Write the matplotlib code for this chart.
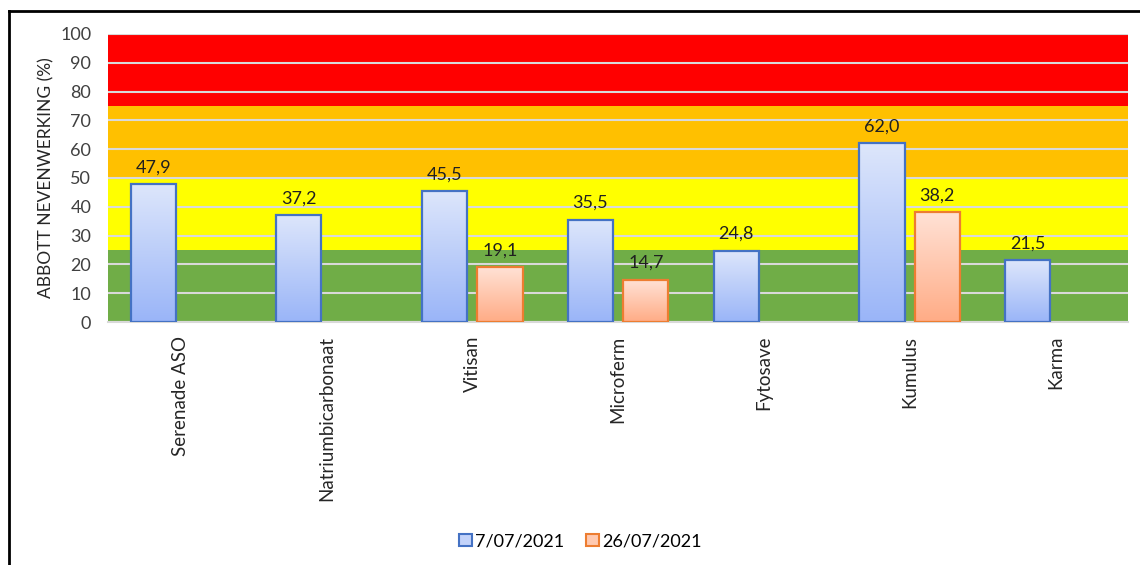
import numpy as np
import matplotlib.pyplot as plt
from matplotlib.patches import Patch
from matplotlib.lines import Line2D
from matplotlib.colors import LinearSegmentedColormap

# data
products = ['Serenade ASO', 'Natriumbicarbonaat', 'Vitisan', 'Microferm',
            'Fytosave', 'Kumulus', 'Karma']
dates = ['7/07/2021', '26/07/2021']
vals_0707 = [47.9, 37.2, 45.5, 35.5, 24.8, 62.0, 21.5]
vals_2607 = [np.nan, np.nan, 19.1, 14.7, np.nan, 38.2, np.nan]

# risk zones (lower, upper, colour)
zone_edges = [0, 25, 50, 75, 100]
zone_colors = ['#70ad47', '#ffff00', '#ffc000', '#ff0000']

plt.rcParams['font.family'] = ['Lato', 'DejaVu Sans']

fig = plt.figure(figsize=(11.4, 5.65), dpi=100)
ax = fig.add_axes([0.0947, 0.430, 0.895, 0.510])

for lo, hi, c in zip(zone_edges[:-1], zone_edges[1:], zone_colors):
    ax.axhspan(lo, hi, color=c, zorder=0, lw=0)

ax.set_yticks(range(0, 101, 10))
ax.yaxis.grid(True, color='#d9d9d9', lw=1.5, zorder=1)
ax.set_axisbelow(False)

blue_cm = LinearSegmentedColormap.from_list('b', ['#9ab5f8', '#dde6fb'])
orange_cm = LinearSegmentedColormap.from_list('o', ['#ffac86', '#ffe2d6'])
grad = np.linspace(0, 1, 100).reshape(-1, 1)

width = 0.31
offset = 0.19
x = np.arange(len(products))
series = [(vals_0707, -offset, blue_cm, '#4472c4'),
          (vals_2607, offset, orange_cm, '#ed7d31')]
for vals, off, cm, edge in series:
    for xi, v in zip(x, vals):
        if np.isnan(v):
            continue
        x0 = xi + off - width / 2
        ax.imshow(grad, cmap=cm, origin='lower', aspect='auto',
                  extent=[x0, x0 + width, 0, v], zorder=3)
        ax.bar(xi + off, v, width=width, facecolor='none', edgecolor=edge,
               lw=1.6, zorder=4)
        ax.text(xi + off, v + 3, f'{v:.1f}'.replace('.', ','), ha='center',
                va='bottom', fontsize=13, color='#202020', zorder=5)

ax.set_xlim(-0.5, len(products) - 0.5)
ax.set_ylim(0, 100)
ax.set_xticks(x)
ax.set_xticklabels(products, rotation=90, fontsize=13.5, color='#262626')
ax.tick_params(axis='y', labelsize=13, labelcolor='#404040', length=0, pad=12)
ax.tick_params(axis='x', length=0, pad=10)
for s in ['top', 'right', 'left']:
    ax.spines[s].set_visible(False)
ax.spines['bottom'].set_color('#d9d9d9')
ax.spines['bottom'].set_linewidth(1.5)
ax.set_ylabel('ABBOTT NEVENWERKING (%)', fontsize=12.5, color='#262626', labelpad=4)

handles = [Patch(facecolor='#c3d3fa', edgecolor='#4472c4', lw=1.5),
           Patch(facecolor='#ffc9b0', edgecolor='#ed7d31', lw=1.5)]
fig.legend(handles, dates, loc='center', bbox_to_anchor=(0.509, 0.042), ncol=2,
           frameon=False, fontsize=13, handlelength=0.7, handleheight=0.7,
           handletextpad=0.2, columnspacing=1.2)

# frame lines
fig.add_artist(Line2D([0.008, 0.008], [0, 0.981], color='black', lw=2,
                      transform=fig.transFigure))
fig.add_artist(Line2D([0.008, 1], [0.981, 0.981], color='black', lw=2,
                      transform=fig.transFigure))

fig.savefig('out.png', dpi=100, facecolor='white')
